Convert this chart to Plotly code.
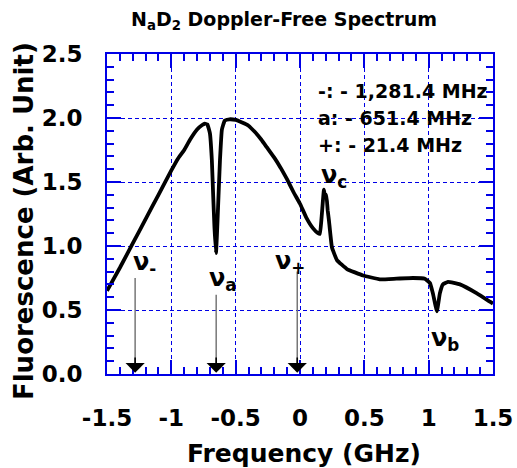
import plotly.graph_objects as go

# Spectrum trace (frequency in GHz, fluorescence in arb. units)
freq = [-1.5, -1.4, -1.3, -1.2, -1.1, -1.0, -0.95, -0.9, -0.855, -0.8, -0.76, -0.74, -0.72,
        -0.70, -0.685, -0.675, -0.665, -0.653, -0.645, -0.637, -0.622, -0.607, -0.585, -0.55,
        -0.5, -0.45, -0.4, -0.35, -0.3, -0.257, -0.2, -0.15, -0.1, -0.05, 0.0, 0.05, 0.1,
        0.14, 0.155, 0.17, 0.186, 0.195, 0.205, 0.215, 0.225, 0.248, 0.287, 0.365, 0.49,
        0.62, 0.75, 0.878, 0.97, 1.01, 1.033, 1.064, 1.087, 1.11, 1.15, 1.243, 1.375, 1.476, 1.5]
fluor = [0.65, 0.83, 1.02, 1.21, 1.40, 1.59, 1.68, 1.75, 1.83, 1.91, 1.945, 1.955, 1.95,
         1.88, 1.67, 1.40, 1.15, 0.945, 1.10, 1.30, 1.67, 1.91, 1.98, 1.99,
         1.985, 1.965, 1.94, 1.89, 1.83, 1.77, 1.69, 1.61, 1.52, 1.42, 1.33, 1.22, 1.14,
         1.10, 1.095, 1.25, 1.44, 1.38, 1.40, 1.28, 1.20, 0.99, 0.89, 0.82, 0.77,
         0.74, 0.745, 0.75, 0.745, 0.71, 0.63, 0.49, 0.63, 0.70, 0.72, 0.70, 0.63, 0.565, 0.55]

# Marked transitions (GHz) and arrow start heights
arrow_x = [-1.2814, -0.6514, -0.0214]
arrow_top = [0.75, 0.62, 0.80]

# Peak labels
label_text = ["ν<sub>-</sub>", "ν<sub>a</sub>", "ν<sub>+</sub>", "ν<sub>c</sub>", "ν<sub>b</sub>"]
label_x = [-1.205, -0.599, -0.078, 0.264, 1.126]
label_y = [0.867, 0.742, 0.875, 1.54, 0.266]

info_lines = ["-: - 1,281.4 MHz", "a: - 651.4 MHz", "+: - 21.4 MHz"]

x_tickvals = [-1.5, -1, -0.5, 0, 0.5, 1, 1.5]
x_ticktext = ["-1.5", "-1", "-0.5", "0", "0.5", "1", "1.5"]
y_tickvals = [0.0, 0.5, 1.0, 1.5, 2.0, 2.5]
y_ticktext = ["0.0", "0.5", "1.0", "1.5", "2.0", "2.5"]

FONT = "DejaVu Sans"
BLUE = "#0000E6"

fig = go.Figure()
fig.add_trace(go.Scatter(x=freq, y=fluor, mode="lines",
                         line=dict(color="black", width=3.8, shape="spline", smoothing=0.3),
                         showlegend=False, hoverinfo="skip"))

axis_common = dict(
    showline=True, linecolor=BLUE, linewidth=2, mirror="ticks",
    ticks="inside", tickcolor=BLUE, tickwidth=2, ticklen=14,
    showgrid=True, gridcolor=BLUE, gridwidth=1, griddash="4px,3px",
    zeroline=False, automargin=False,
    tickfont=dict(family=FONT, size=23, color="black", weight="bold"),
    minor=dict(ticks="inside", ticklen=7, tickwidth=2, tickcolor=BLUE, dtick=0.1, showgrid=False),
)

fig.update_xaxes(range=[-1.5, 1.5], tickvals=x_tickvals, ticktext=x_ticktext,
                 ticklabelstandoff=22, **axis_common)
fig.update_yaxes(range=[0, 2.5], tickvals=y_tickvals, ticktext=y_ticktext,
                 ticklabelstandoff=18, **axis_common)

for xa, top in zip(arrow_x, arrow_top):
    fig.add_shape(type="line", xref="x", yref="y", x0=xa, x1=xa, y0=0.05, y1=top,
                  line=dict(color="#777777", width=1.5))

annotations = []
for xa in arrow_x:
    annotations.append(dict(x=xa, y=0.01, ax=xa, ay=0.14, xref="x", yref="y", axref="x", ayref="y",
                            showarrow=True, arrowhead=1, arrowsize=2.0, arrowcolor="black",
                            arrowwidth=1.6, text=""))

for t, lx, ly in zip(label_text, label_x, label_y):
    annotations.append(dict(x=lx, y=ly, xref="x", yref="y", text=t, showarrow=False,
                            xanchor="center", yanchor="middle",
                            font=dict(family=FONT, size=24, color="black", weight="bold")))

info_y = [0.884, 0.800, 0.716]
for t, iy in zip(info_lines, info_y):
    annotations.append(dict(x=0.541, y=iy, xref="paper", yref="paper", text=t, showarrow=False,
                            xanchor="left", yanchor="middle",
                            font=dict(family=FONT, size=19, color="black", weight="bold")))

# Axis titles and chart title
annotations.append(dict(x=0.51, y=-0.247, xref="paper", yref="paper", text="Frequency (GHz)",
                        showarrow=False, xanchor="center", yanchor="middle",
                        font=dict(family=FONT, size=25, color="black", weight="bold")))
annotations.append(dict(x=-0.215, y=0.478, xref="paper", yref="paper", text="Fluorescence (Arb. Unit)",
                        showarrow=False, textangle=-90, xanchor="center", yanchor="middle",
                        font=dict(family=FONT, size=26, color="black", weight="bold")))
annotations.append(dict(x=0.459, y=1.106, xref="paper", yref="paper",
                        text="N<sub>a</sub>D<sub>2</sub> Doppler-Free Spectrum",
                        showarrow=False, xanchor="center", yanchor="middle",
                        font=dict(family=FONT, size=19, color="black", weight="bold")))

fig.update_layout(
    width=517, height=468, autosize=False,
    margin=dict(l=107, r=24, t=54, b=94),
    plot_bgcolor="white", paper_bgcolor="white",
    annotations=annotations,
)

fig.write_html("out.html",
               config={"displayModeBar": False, "responsive": False},
               post_script="document.body.style.margin='0';document.body.style.overflow='hidden';")
